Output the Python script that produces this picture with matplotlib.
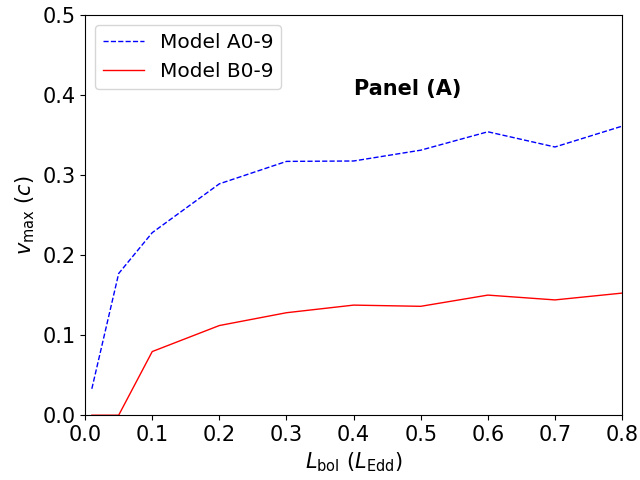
import numpy as np
import matplotlib
matplotlib.use('Agg')
import matplotlib.pyplot as plt

L_bol = [0.01, 0.05, 0.1, 0.2, 0.3, 0.4, 0.5, 0.6, 0.7, 0.8]
v_A = [0.033, 0.177, 0.228, 0.289, 0.317, 0.3175, 0.331, 0.354, 0.335, 0.361]
v_B = [0.0, 0.0, 0.0795, 0.112, 0.128, 0.1375, 0.136, 0.150, 0.144, 0.1525]

plt.rcParams['font.size'] = 15
fig = plt.figure(figsize=(6.4, 4.8), dpi=100)
plt.plot(L_bol, v_A, color='blue', ls='--', lw=1, label='Model A0-9')
plt.plot(L_bol, v_B, color='red', lw=1, label='Model B0-9')
plt.text(0.4, 0.4, 'Panel (A)', fontweight='bold')
plt.xlim(0, 0.8)
plt.ylim(0, 0.5)
plt.xlabel(r'$L_{\rm bol}\ (L_{\rm Edd})$')
plt.ylabel(r'$v_{\rm max}\ (c)$')
plt.legend(loc='upper left', fontsize=14.5)
plt.subplots_adjust(left=0.133, right=0.972, top=0.969, bottom=0.135)
plt.savefig('out.png', dpi=100)
